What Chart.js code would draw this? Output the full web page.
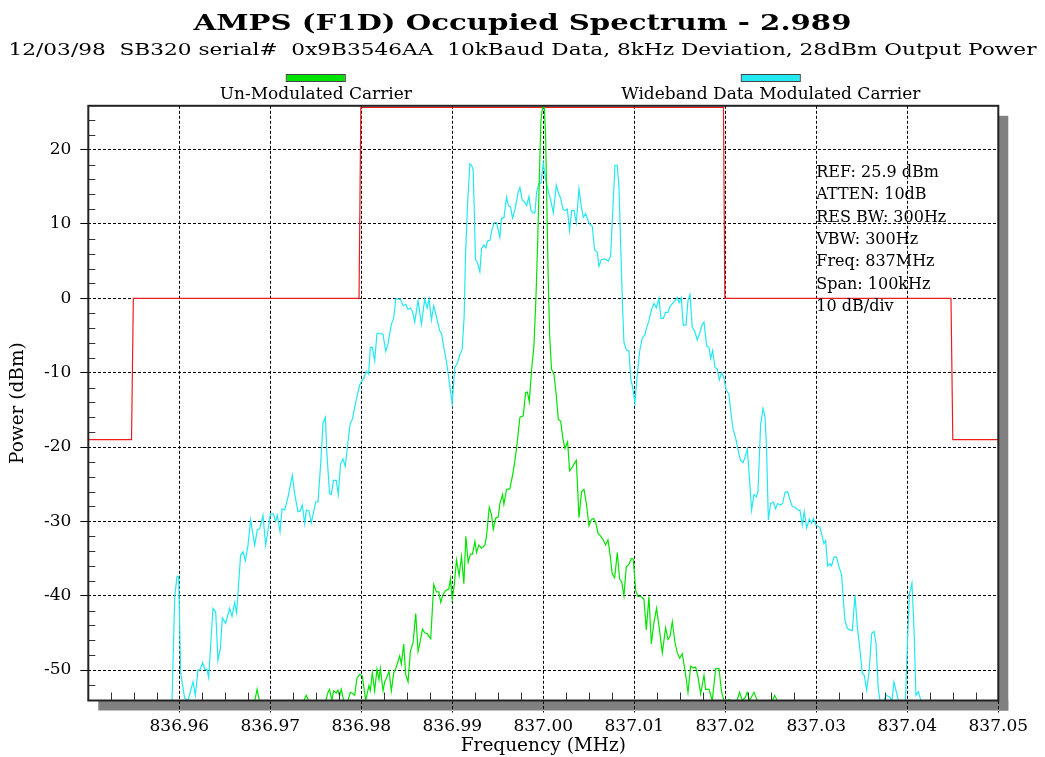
<!DOCTYPE html>
<html><head><meta charset="utf-8">
<script src="https://cdn.jsdelivr.net/npm/chart.js@4.4.1/dist/chart.umd.min.js"></script>
<style>html,body{margin:0;padding:0;background:#fff;}#wrap{width:1045px;height:757px;}</style>
</head><body><div id="wrap"><canvas id="c" width="1045" height="757"></canvas></div>
<script>
const TITLE = 'AMPS (F1D) Occupied Spectrum - 2.989';
const SUBTITLE = '12/03/98  SB320 serial#  0x9B3546AA  10kBaud Data, 8kHz Deviation, 28dBm Output Power';
const X_TITLE = 'Frequency (MHz)';
const Y_TITLE = 'Power (dBm)';
const seriesNames = ['Un-Modulated Carrier', 'Wideband Data Modulated Carrier', 'Limit Mask'];
const infoLines = ['REF: 25.9 dBm', 'ATTEN: 10dB', 'RES BW: 300Hz', 'VBW: 300Hz', 'Freq: 837MHz', 'Span: 100kHz', '10 dB/div'];
const CENTER_MHZ = 837.0;
const X_MIN = 836.95, X_MAX = 837.05;
const Y_MIN = -54.1, Y_MAX = 25.9;
const xTickValues = [836.96, 836.97, 836.98, 836.99, 837.00, 837.01, 837.02, 837.03, 837.04, 837.05];
const yTickValues = [-50, -40, -30, -20, -10, 0, 10, 20];
const xMinorStep = 0.0025;
const yMinorStep = 2;

// [offset from 837 MHz in kHz, dBm]
const maskTrace = [[-50,-19],[-45.25,-19],[-45.05,0],[-20.25,0],[-20.05,25.7],[19.8,25.7],[19.95,0],[44.8,0],[45.0,-19],[50,-19]];

const carrierTrace = [
[-50,-54.1],[-31.7,-54.1],[-31.45,-52.6],[-31.2,-54.1],[-26.3,-54.1],[-26.05,-53.4],[-25.8,-54.1],[-23.9,-54.1],
[-23.67,-53.05],[-23.49,-52.6],[-23.23,-54.1],[-23.05,-52.8],[-22.75,-53.1],[-22.57,-52.7],[-22.39,-53.5],[-22.2,-52.6],
[-21.94,-54.1],[-21.47,-54.1],[-21.21,-53.0],[-20.92,-53.2],[-20.73,-53.4],[-20.48,-51.1],[-20.18,-50.6],[-19.89,-50.8],
[-19.52,-54.1],[-19.16,-52.1],[-19.01,-52.8],[-18.79,-50.4],[-18.53,-52.8],[-18.28,-49.9],[-18.06,-51.3],[-17.91,-49.8],
[-17.61,-52.8],[-17.43,-51.6],[-17.25,-51.1],[-16.95,-50.2],[-16.70,-52.8],[-16.44,-50.4],[-16.15,-49.6],[-15.78,-48.1],
[-15.60,-49.2],[-15.34,-46.5],[-15.12,-50.6],[-14.86,-51.6],[-14.61,-47.5],[-14.31,-46.3],[-14.02,-42.4],[-13.76,-47.5],
[-13.58,-46.5],[-13.28,-44.5],[-13.03,-45.0],[-12.77,-45.1],[-12.37,-45.8],[-12.04,-38.5],[-11.74,-39.5],[-11.49,-39.5],
[-11.27,-40.9],[-11.01,-39.8],[-10.72,-39.3],[-10.39,-39.1],[-10.20,-37.7],[-10.02,-40.5],[-9.80,-38.8],[-9.54,-35.2],
[-9.25,-37.3],[-8.99,-34.7],[-8.73,-38.4],[-8.51,-32.0],[-8.26,-35.5],[-8.00,-34.4],[-7.78,-34.4],[-7.52,-32.7],
[-7.34,-34.2],[-7.08,-33.2],[-6.79,-33.6],[-6.42,-33.2],[-6.24,-32.0],[-5.94,-28.1],[-5.69,-29.1],[-5.50,-31.1],
[-5.25,-29.6],[-4.95,-29.4],[-4.77,-27.6],[-4.48,-26.4],[-4.33,-27.7],[-4.04,-25.7],[-3.67,-25.6],[-3.30,-23.3],
[-2.94,-20.2],[-2.57,-16.0],[-2.2,-15.8],[-1.95,-12.7],[-1.75,-12.6],[-1.54,-13.9],[-1.28,-9.5],[-1.03,-6.4],
[-0.81,0],[-0.62,7.4],[-0.44,16],[-0.26,23.9],[-0.1,25.5],[0,25.9],[0.12,25.5],[0.25,22],[0.4,12],[0.55,2],
[0.7,-5],[0.9,-9.5],[1.17,-10.2],[1.43,-13.1],[1.65,-16.3],[1.90,-16.5],[2.16,-18.9],[2.38,-20.2],[2.67,-19.3],
[2.89,-23.2],[3.19,-22.7],[3.41,-22.2],[3.63,-21.8],[3.92,-29.5],[4.21,-26.0],[4.47,-25.7],[4.73,-27.6],[5.02,-30.6],
[5.27,-29.8],[5.49,-29.6],[5.75,-30.1],[6.01,-31.6],[6.30,-32.0],[6.59,-32.5],[6.85,-33.2],[7.11,-32.5],[7.33,-34.4],
[7.58,-37.1],[7.84,-37.6],[8.13,-34.2],[8.39,-37.8],[8.61,-38.1],[8.86,-40.0],[9.12,-36.1],[9.41,-35.8],[9.67,-35.0],
[9.89,-35.1],[10.15,-39.3],[10.40,-40.1],[10.70,-40.1],[11.06,-40.5],[11.32,-44.6],[11.61,-40.1],[11.87,-46.5],
[12.16,-43.6],[12.45,-41.7],[12.71,-44.1],[13.08,-47.7],[13.44,-44.3],[13.70,-45.9],[13.92,-45.5],[14.18,-43.5],
[14.47,-46.3],[14.73,-47.7],[14.99,-48.4],[15.27,-47.8],[15.64,-50.6],[15.90,-53.0],[16.19,-49.5],[16.45,-49.7],
[16.74,-49.6],[17.0,-50.9],[17.29,-53.2],[17.66,-50.7],[17.84,-52.6],[18.21,-52.6],[18.57,-54.1],[18.94,-49.8],
[19.30,-49.8],[19.60,-53.0],[19.85,-54.1],[20.4,-54.0],[20.77,-54.1],[21.3,-54.1],[21.57,-53.0],[21.87,-54.1],
[22.2,-53.7],[22.4,-53.0],[22.67,-54.1],[23.15,-53.0],[23.5,-54.1],[25.2,-54.1],[25.42,-53.4],[25.7,-54.1],[50,-54.1]
];

const widebandTrace = [
[-50,-54.1],[-40.8,-54.1],[-40.5,-40.1],[-40.25,-37.4],[-40.07,-37.4],[-39.85,-50.4],[-39.41,-53.8],[-39.04,-54.1],
[-38.49,-51.6],[-38.24,-53.4],[-37.95,-50.0],[-37.73,-50.0],[-37.43,-49.0],[-37.21,-49.9],[-36.96,-49.9],[-36.77,-51.0],
[-36.30,-41.7],[-36.0,-42.2],[-35.75,-48.7],[-35.49,-47.1],[-35.27,-43.0],[-34.91,-43.7],[-34.47,-41.7],[-34.21,-42.8],
[-33.92,-40.9],[-33.7,-42.3],[-33.26,-34.5],[-33.0,-34.1],[-32.74,-35.3],[-32.45,-33.2],[-32.16,-29.8],[-31.72,-33.2],
[-31.42,-31.1],[-31.17,-31.0],[-30.8,-29.2],[-30.51,-33.2],[-30.25,-31.2],[-30.0,-29.0],[-29.67,-29.0],[-29.41,-30.0],
[-29.23,-29.2],[-28.93,-31.4],[-28.71,-28.3],[-28.42,-28.5],[-28.05,-26.7],[-27.58,-23.8],[-27.32,-26.3],[-26.96,-28.7],
[-26.7,-28.6],[-26.48,-27.8],[-26.22,-30.3],[-26.04,-28.5],[-25.75,-28.6],[-25.5,-30.2],[-25.01,-27.4],[-24.76,-27.4],
[-24.45,-22.0],[-24.21,-16.8],[-23.95,-16.0],[-23.78,-20.9],[-23.49,-26.2],[-23.30,-26.4],[-23.05,-24.5],[-22.75,-24.5],
[-22.53,-26.4],[-22.28,-22.3],[-22.02,-21.6],[-21.76,-22.6],[-21.47,-19.4],[-21.21,-16.8],[-20.99,-16.3],[-20.55,-13.6],
[-20.18,-11.7],[-20.0,-11.2],[-19.71,-10.7],[-19.45,-9.8],[-19.19,-10.2],[-19.01,-6.6],[-18.79,-6.6],[-18.53,-8.4],
[-18.28,-4.7],[-17.91,-4.7],[-17.61,-4.9],[-17.32,-7.1],[-17.06,-6.1],[-16.70,-3.5],[-16.44,-2.7],[-16.22,-0.1],
[-15.96,-0.1],[-15.71,-0.1],[-15.41,-1.0],[-15.12,-0.8],[-14.86,-1.5],[-14.61,-1.3],[-14.39,-1.7],[-14.13,-3.2],
[-13.76,-0.3],[-13.39,-3.5],[-13.03,-0.1],[-12.77,-1.3],[-12.55,-0.1],[-12.29,-2.9],[-12.04,-1.0],[-11.74,-2.5],
[-11.38,-4.4],[-11.19,-4.7],[-10.94,-6.6],[-10.64,-8.5],[-10.39,-10.7],[-10.02,-14.1],[-9.72,-9.3],[-9.47,-8.8],
[-9.17,-7.6],[-8.92,-6.9],[-8.70,-2.5],[-8.55,5.7],[-8.33,12.5],[-8.07,18.1],[-7.89,17.9],[-7.71,17.3],[-7.60,12.5],
[-7.45,5.2],[-7.23,4.8],[-6.97,3.6],[-6.79,6.7],[-6.53,7.2],[-6.31,6.8],[-6.13,7.7],[-5.87,7.8],[-5.61,9.4],
[-5.36,10.2],[-5.14,10.2],[-4.77,8.2],[-4.59,10.8],[-4.33,10.8],[-4.04,13.6],[-3.85,12.5],[-3.60,12.3],[-3.38,10.8],
[-3.12,11.9],[-2.75,14.3],[-2.57,14.9],[-2.31,13.2],[-2.09,13.0],[-1.83,12.5],[-1.58,13.7],[-1.36,11.8],[-1.10,11.5],
[-0.92,11.5],[-0.73,14.3],[-0.48,15.5],[-0.26,15.5],[0,18.2],[0.26,16.0],[0.55,14.4],[0.81,13.2],[1.10,11.5],
[1.43,15.2],[1.65,14.2],[1.90,13.5],[2.16,12.0],[2.38,11.8],[2.64,12.0],[2.89,9.1],[3.11,11.8],[3.37,11.8],
[3.63,10.2],[3.92,14.7],[4.18,12.3],[4.40,10.9],[4.65,11.4],[5.02,10.1],[5.38,9.7],[5.64,6.5],[5.93,6.2],[6.12,4.3],
[6.37,5.2],[6.78,5.3],[7.14,5.0],[7.40,5.7],[7.66,12.5],[7.88,17.9],[8.13,17.9],[8.32,14.9],[8.50,7.2],[8.68,-0.1],
[8.86,-5.9],[9.12,-6.9],[9.41,-7.1],[9.60,-10.7],[9.85,-12.2],[10.07,-14.1],[10.33,-10.2],[10.59,-7.1],[10.88,-5.3],
[11.17,-4.9],[11.36,-3.9],[11.61,-3.0],[11.90,-1.5],[12.16,-0.7],[12.42,-1.3],[12.71,0.0],[12.93,-2.7],[13.19,-2.7],
[13.44,-1.9],[13.70,-1.9],[13.92,-1.1],[14.18,-0.7],[14.47,-0.3],[14.73,0.1],[14.91,-0.6],[15.16,0.1],[15.38,-3.6],
[15.68,-3.6],[15.90,-0.3],[16.12,0.5],[16.37,-3.9],[16.63,-4.4],[16.92,-5.6],[17.18,-4.7],[17.47,-3.5],[17.66,-3.2],
[17.95,-6.4],[18.21,-6.6],[18.39,-8.1],[18.61,-7.0],[18.86,-9.3],[19.12,-9.5],[19.34,-11.0],[19.60,-10.0],[19.85,-10.7],
[20.11,-12.4],[20.40,-12.9],[20.59,-15.1],[20.84,-17.5],[21.14,-18.8],[21.43,-20.6],[21.68,-21.8],[21.94,-22.1],
[22.16,-21.4],[22.42,-20.3],[22.67,-24.5],[22.89,-28.5],[23.15,-26.4],[23.41,-26.7],[23.59,-26.0],[23.88,-17.0],
[24.14,-14.8],[24.36,-15.9],[24.54,-20.4],[24.73,-29.8],[24.98,-27.6],[25.27,-27.4],[25.53,-28.3],[25.75,-27.6],
[26.08,-27.8],[26.3,-27.6],[26.56,-26.1],[26.85,-26.0],[27.11,-27.1],[27.36,-28.0],[27.66,-28.1],[28.02,-28.5],
[28.2,-28.5],[28.46,-30.5],[28.68,-28.7],[28.94,-30.9],[29.23,-29.7],[29.49,-30.3],[29.67,-29.6],[29.96,-30.5],
[30.22,-30.7],[30.40,-30.8],[30.66,-32.1],[30.84,-33.0],[31.03,-32.6],[31.25,-36.0],[31.5,-35.7],[31.68,-36.0],
[31.94,-34.8],[32.23,-34.8],[32.49,-36.1],[32.78,-37.2],[32.97,-40.6],[33.15,-43.3],[33.41,-44.4],[33.70,-44.6],
[33.96,-44.7],[34.25,-39.9],[34.51,-44.2],[34.80,-47.3],[35.05,-50.4],[35.27,-50.7],[35.53,-52.7],[35.79,-50.4],
[36.08,-45.1],[36.34,-44.8],[36.56,-46.4],[36.81,-52.5],[37.0,-54.1],[37.44,-54.1],[37.66,-53.4],[38.02,-53.6],
[38.32,-54.1],[38.53,-51.6],[38.75,-52.7],[39.01,-54.1],[39.49,-55.0],[39.78,-54.5],[40.0,-46.9],[40.22,-39.9],
[40.51,-38.3],[40.73,-44.2],[40.95,-53.4],[41.21,-52.9],[41.47,-54.0],[41.76,-55.0],[50,-55.0]
];

const GREEN = '#00e400', CYAN = '#22e8f2', RED = '#ee1c1c';
const SERIF = '"DejaVu Serif", serif';

function toPoints(trace) { return trace.map(p => ({ x: CENTER_MHZ + p[0] / 1000, y: p[1] })); }

// draws a horizontally stretched, centred line of text
function stretchedText(ctx, text, font, cx, baseline, targetWidth) {
  ctx.save();
  ctx.font = font;
  ctx.fillStyle = '#000';
  ctx.textAlign = 'center';
  ctx.textBaseline = 'alphabetic';
  const w = ctx.measureText(text).width;
  const sx = targetWidth / w;
  ctx.translate(cx, baseline);
  ctx.scale(sx, 1);
  ctx.fillText(text, 0, 0);
  ctx.restore();
}

const framePlugin = {
  id: 'frame',
  beforeDraw(chart) {
    const { ctx, chartArea: a } = chart;
    ctx.save();
    ctx.fillStyle = '#808080';
    ctx.fillRect(a.left + 10, a.bottom, a.width, 10);
    ctx.fillRect(a.right, a.top + 10, 10, a.height);
    ctx.fillStyle = '#ffffff';
    ctx.fillRect(a.left, a.top, a.width, a.height);
    ctx.restore();
  },
  afterDatasetsDraw(chart) {
    const { ctx, chartArea: a, scales } = chart;
    const xs = scales.x, ys = scales.y;
    ctx.save();
    ctx.strokeStyle = '#333';
    ctx.lineWidth = 1;
    ctx.beginPath();
    for (let v = Math.ceil(Y_MIN / yMinorStep) * yMinorStep; v < Y_MAX; v += yMinorStep) {
      if (Math.abs(v % 10) < 1e-9) continue;
      const y = Math.round(ys.getPixelForValue(v)) + 0.5;
      ctx.moveTo(a.left, y); ctx.lineTo(a.left + 7, y);
    }
    for (let i = 1; X_MIN + i * xMinorStep < X_MAX - 1e-9; i++) {
      if (i % 4 === 0) continue;
      const x = Math.round(xs.getPixelForValue(X_MIN + i * xMinorStep)) + 0.5;
      ctx.moveTo(x, a.bottom); ctx.lineTo(x, a.bottom - 8);
    }
    ctx.stroke();
    ctx.strokeStyle = '#222';
    ctx.lineWidth = 2;
    ctx.strokeRect(a.left, a.top, a.width, a.height);
    ctx.restore();
  },
  afterDraw(chart) {
    const { ctx, chartArea: a, width } = chart;
    stretchedText(ctx, TITLE, 'bold 22px ' + SERIF, width / 2, 30, 658);
    stretchedText(ctx, SUBTITLE, '17.5px ' + SERIF, width / 2, 55, 1028);
    ctx.save();
    // legend: colour box above a centred label
    [0, 1].forEach((di, i) => {
      const ds = chart.data.datasets[di];
      const cx = a.left + a.width * (i === 0 ? 0.25 : 0.75);
      ctx.fillStyle = ds.borderColor;
      ctx.fillRect(cx - 29, 75, 58, 6);
      ctx.strokeStyle = '#444';
      ctx.lineWidth = 1;
      ctx.strokeRect(cx - 29.5, 74.5, 59, 7);
      ctx.fillStyle = '#000';
      ctx.font = '17px ' + SERIF;
      ctx.textAlign = 'center';
      ctx.textBaseline = 'middle';
      ctx.fillText(ds.label, cx, 95);
    });
    // instrument settings block
    ctx.fillStyle = '#000';
    ctx.font = '16px ' + SERIF;
    ctx.textAlign = 'left';
    ctx.textBaseline = 'alphabetic';
    const tx = a.left + a.width * 0.8;
    infoLines.forEach((t, i) => ctx.fillText(t, tx, 177 + i * 22.3));
    ctx.restore();
  }
};

new Chart(document.getElementById('c').getContext('2d'), {
  type: 'line',
  data: {
    datasets: [
      { label: seriesNames[0], data: toPoints(carrierTrace), borderColor: GREEN, backgroundColor: GREEN, borderWidth: 1.2, pointRadius: 0, tension: 0, fill: false },
      { label: seriesNames[1], data: toPoints(widebandTrace), borderColor: CYAN, backgroundColor: CYAN, borderWidth: 1.2, pointRadius: 0, tension: 0, fill: false },
      { label: seriesNames[2], data: toPoints(maskTrace), borderColor: RED, backgroundColor: RED, borderWidth: 1.2, pointRadius: 0, tension: 0, fill: false }
    ]
  },
  options: {
    responsive: false,
    animation: false,
    devicePixelRatio: 1,
    layout: { padding: { top: 105.8, left: 0, right: 0, bottom: 0 } },
    plugins: {
      legend: { display: false },
      tooltip: { enabled: false },
      title: { display: false },
      subtitle: { display: false }
    },
    scales: {
      x: {
        type: 'linear', min: X_MIN, max: X_MAX,
        afterBuildTicks: s => { s.ticks = xTickValues.map(v => ({ value: v })); },
        afterFit: s => { s.height = 56.5; },
        ticks: { callback: v => Number(v).toFixed(2), color: '#000', font: { family: SERIF, size: 17 }, padding: 4, maxRotation: 0, autoSkip: false },
        grid: { color: '#000', lineWidth: 1, tickLength: 12, tickColor: '#000', tickBorderDash: [3, 2] },
        border: { display: false, dash: [3, 2] },
        title: { display: true, text: X_TITLE, color: '#000', font: { family: SERIF, size: 18.5, lineHeight: 1.2 }, padding: { top: 0, bottom: 0 } }
      },
      y: {
        type: 'linear', min: Y_MIN, max: Y_MAX,
        afterBuildTicks: s => { s.ticks = yTickValues.map(v => ({ value: v })); },
        afterFit: s => { s.width = 88.3; },
        ticks: { callback: v => String(v), color: '#000', font: { family: SERIF, size: 17 }, padding: 9 },
        grid: { color: '#000', lineWidth: 1, tickLength: 8, tickColor: '#000', tickBorderDash: [] },
        border: { display: false, dash: [3, 2] },
        title: { display: true, text: Y_TITLE, color: '#000', font: { family: SERIF, size: 18.5, lineHeight: 1.2 }, padding: { top: 7, bottom: 0 } }
      },
      yRight: {
        type: 'linear', position: 'right', display: true, min: Y_MIN, max: Y_MAX,
        afterFit: s => { s.width = 46.7; },
        ticks: { display: false }, grid: { display: false }, border: { display: false }
      }
    }
  },
  plugins: [framePlugin]
});
</script></body></html>
